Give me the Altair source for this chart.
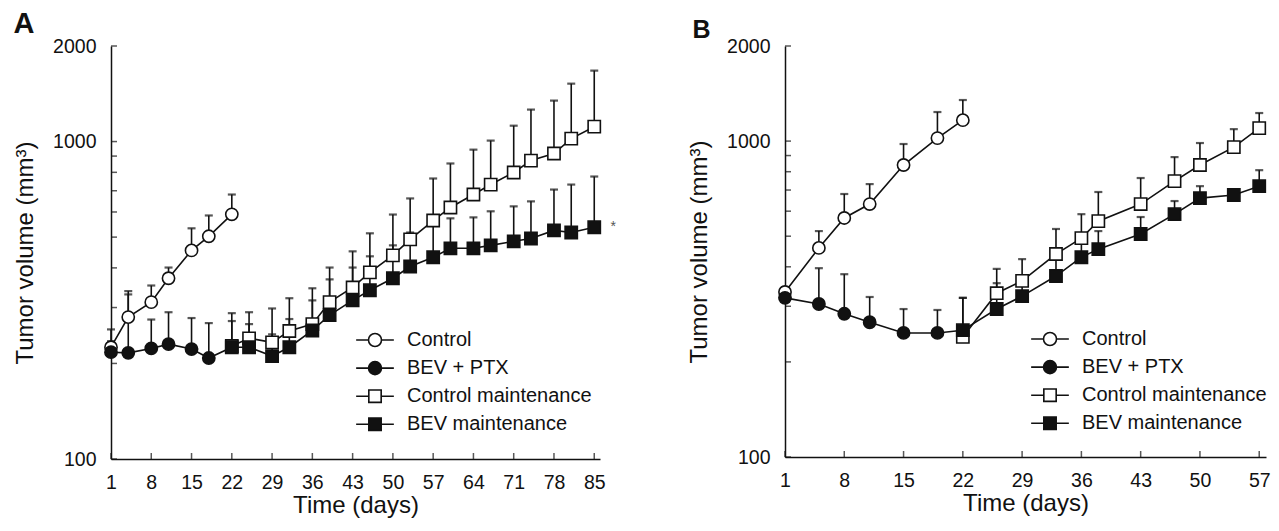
import altair as alt
import pandas as pd

FONT = "Liberation Sans"
INK = "#111111"

series = ["Control", "BEV + PTX", "Control maintenance", "BEV maintenance"]

# ---------------- Panel A ----------------
a_ctrl_days = [1, 4, 8, 11, 15, 18, 22]
a_ctrl_mean = [225, 280, 312, 371, 454, 503, 590]
a_ctrl_upper = [256, 338, 352, 401, 533, 585, 681]

a_bp_days = [1, 4, 8, 11, 15, 18]
a_bp_mean = [217, 216, 223, 230, 222, 208]
a_bp_upper = [235, 330, 275, 290, 278, 268]

a_maint_days = [22, 25, 29, 32, 36, 39, 43, 46, 50, 53, 57, 60, 64, 67, 71, 74, 78, 81, 85]
a_cm_mean = [227, 240, 233, 253, 266, 312, 347, 387, 438, 492, 564, 620, 681, 732, 799, 871, 917, 1022, 1114]
a_cm_upper = [288, 290, 298, 321, 345, 401, 451, 514, 589, 662, 765, 853, 943, 1007, 1122, 1261, 1346, 1522, 1673]
a_bm_mean = [225, 225, 211, 225, 254, 284, 316, 340, 371, 404, 432, 461, 461, 471, 485, 495, 525, 517, 537]
a_bm_upper = [272, 266, 247, 276, 316, 368, 401, 435, 471, 517, 556, 573, 577, 603, 625, 648, 706, 732, 776]

a_xticks = [1, 8, 15, 22, 29, 36, 43, 50, 57, 64, 71, 78, 85]
a_note = {"day": 85, "vol": 537, "text": "*"}

# ---------------- Panel B ----------------
b_ctrl_days = [1, 5, 8, 11, 15, 19, 22]
b_ctrl_mean = [333, 459, 571, 632, 840, 1022, 1165]
b_ctrl_upper = [345, 519, 680, 731, 979, 1236, 1349]

b_bp_days = [1, 5, 8, 11, 15, 19]
b_bp_mean = [319, 305, 284, 267, 247, 247]
b_bp_upper = [330, 396, 379, 321, 294, 292]

b_maint_days = [22, 26, 29, 33, 36, 38, 43, 47, 50, 54, 57]
b_cm_mean = [240, 330, 361, 439, 493, 558, 632, 747, 840, 957, 1099]
b_cm_upper = [319, 394, 423, 527, 587, 690, 764, 890, 986, 1091, 1227]
b_bm_mean = [252, 294, 323, 374, 429, 455, 508, 587, 660, 675, 720]
b_bm_upper = [319, 355, 360, 430, 480, 519, 575, 646, 720, 690, 809]

b_xticks = [1, 8, 15, 22, 29, 36, 43, 50, 57]

y_label_values = [100, 1000, 2000]
y_tick_values = [100, 200, 300, 400, 500, 600, 700, 800, 900, 1000, 2000]

# legend symbols: marker with a short line through it
CIRC = "M-2.9,0H-1M1,0H2.9M-1,0A1,1 0 1,1 1,0A1,1 0 1,1 -1,0Z"
SQR = "M-2.9,0H-0.95M0.95,0H2.9M-0.95,-0.95H0.95V0.95H-0.95Z"


def frames(ctrl, bp, cm, bm):
    rows = []
    for name, (days, mean, upper) in zip(series, [ctrl, bp, cm, bm]):
        for d, m, u in zip(days, mean, upper):
            rows.append({"day": d, "vol": m, "upper": u, "group": name})
    pts = pd.DataFrame(rows)
    lrows = []
    for d, m in zip(ctrl[0], ctrl[1]):
        lrows.append({"day": d, "vol": m, "line": "Control"})
    for d, m in list(zip(bp[0], bp[1])) + [(bm[0][0], bm[1][0])]:
        lrows.append({"day": d, "vol": m, "line": "BEV + PTX"})
    for d, m in zip(cm[0], cm[1]):
        lrows.append({"day": d, "vol": m, "line": "Control maintenance"})
    for d, m in zip(bm[0], bm[1]):
        lrows.append({"day": d, "vol": m, "line": "BEV maintenance"})
    return pts, pd.DataFrame(lrows)


def panel(letter, pts, lines, xticks, xmax, width, height, lx, ly, title_size, title_offset,
          title_dx=0, note=None):
    xs = alt.Scale(domain=[1, xmax], nice=False, zero=False)
    ys = alt.Scale(type="log", domain=[100, 2000], nice=False)
    x_axis = alt.Axis(values=xticks, tickSize=0, labelPadding=14, title="Time (days)",
                      titlePadding=2, domainColor=INK, domainWidth=1.5, grid=False,
                      labelFontSize=19.5, titleFontSize=24, labelFont=FONT, titleFont=FONT,
                      labelColor=INK, titleColor=INK, titleFontWeight="normal",
                      labelFlush=False, labelOverlap=False)
    y_axis = alt.Axis(values=y_label_values, format="d", tickSize=0, labelPadding=15,
                      title="Tumor volume (mm³)", titlePadding=15, domainColor=INK,
                      domainWidth=1.5, grid=False, labelFontSize=19.5, titleFontSize=24,
                      labelFont=FONT, titleFont=FONT, labelColor=INK, titleColor=INK,
                      titleFontWeight="normal", labelOverlap=False, labelFlush=False)

    def X(field="day"):
        return alt.X(f"{field}:Q", scale=xs, axis=x_axis)

    def Y(field="vol"):
        return alt.Y(f"{field}:Q", scale=ys, axis=y_axis)

    err = alt.Chart(pts).mark_rule(color=INK, strokeWidth=1.6).encode(
        x=X(), y=Y(), y2="upper:Q")
    caps = alt.Chart(pts).mark_tick(orient="horizontal", size=8, thickness=2.2, color=INK).encode(
        x=X(), y=Y("upper"))
    xt = alt.Chart(pd.DataFrame({"day": xticks, "vol": [100] * len(xticks)})).mark_tick(
        orient="vertical", size=6, thickness=1.5, color=INK, yOffset=-3).encode(
        x=X(), y=Y())
    yt = alt.Chart(pd.DataFrame({"vol": y_tick_values, "day": [1] * len(y_tick_values)})).mark_tick(
        orient="horizontal", size=6, thickness=1.5, color=INK, xOffset=3).encode(
        x=X(), y=Y())
    ln = alt.Chart(lines).mark_line(color=INK, strokeWidth=1.6).encode(
        x=X(), y=Y(), detail="line:N", order="day:Q")
    pt = alt.Chart(pts).mark_point(filled=True, stroke=INK, strokeWidth=1.6, size=150, opacity=1).encode(
        x=X(), y=Y(),
        shape=alt.Shape("group:N", scale=alt.Scale(domain=series, range=["circle", "circle", "square", "square"]), legend=None),
        fill=alt.Fill("group:N", scale=alt.Scale(domain=series, range=["white", INK, "white", INK]), legend=None))
    leg = alt.Legend(title=None, orient="none", legendX=lx, legendY=ly, labelFont=FONT,
                     labelFontSize=20, labelColor=INK, symbolSize=169, symbolStrokeWidth=1.6,
                     labelOffset=22, rowPadding=8.1, padding=0, labelLimit=400)
    # legend-only layer: positions are missing, so no marks are drawn
    leg_df = pd.DataFrame({"group": series, "day": [None] * 4, "vol": [None] * 4})
    lg = alt.Chart(leg_df).mark_point(filled=False, color=INK, strokeWidth=1.6, size=150, opacity=1).encode(
        x=X(), y=Y(),
        shape=alt.Shape("group:N", scale=alt.Scale(domain=series, range=[CIRC, CIRC, SQR, SQR]), legend=leg),
        fill=alt.Fill("group:N", scale=alt.Scale(domain=series, range=["white", INK, "white", INK]), legend=leg))
    layers = [err, caps, xt, yt, ln, lg, pt]
    if note is not None:
        nt = alt.Chart(pd.DataFrame([note])).mark_text(
            dx=19, dy=0, fontSize=14, color="#555555", font=FONT, baseline="middle").encode(
            x=X(), y=Y(), text="text:N")
        layers.append(nt)
    return alt.layer(*layers).resolve_scale(shape="independent", fill="independent").properties(
        width=width, height=height,
        title=alt.TitleParams(letter, anchor="start", frame="bounds", fontSize=title_size,
                              fontWeight="bold", font=FONT, color=INK, offset=title_offset,
                              dx=title_dx))


pa, la = frames((a_ctrl_days, a_ctrl_mean, a_ctrl_upper), (a_bp_days, a_bp_mean, a_bp_upper),
                (a_maint_days, a_cm_mean, a_cm_upper), (a_maint_days, a_bm_mean, a_bm_upper))
pb, lb = frames((b_ctrl_days, b_ctrl_mean, b_ctrl_upper), (b_bp_days, b_bp_mean, b_bp_upper),
                (b_maint_days, b_cm_mean, b_cm_upper), (b_maint_days, b_bm_mean, b_bm_upper))

A = panel("A", pa, la, a_xticks, 86, 489, 413, 254, 284, 29, -3, note=a_note)
B = panel("B", pb, lb, b_xticks, 57.8, 481, 411, 255, 283, 25, -7, title_dx=5)

chart = alt.hconcat(A, B, spacing=71).properties(
    padding={"left": 5, "top": 2, "right": 0, "bottom": 0}, background="white"
).configure_view(stroke=None)

chart.save("out.html", embed_options={"renderer": "svg", "actions": False})
